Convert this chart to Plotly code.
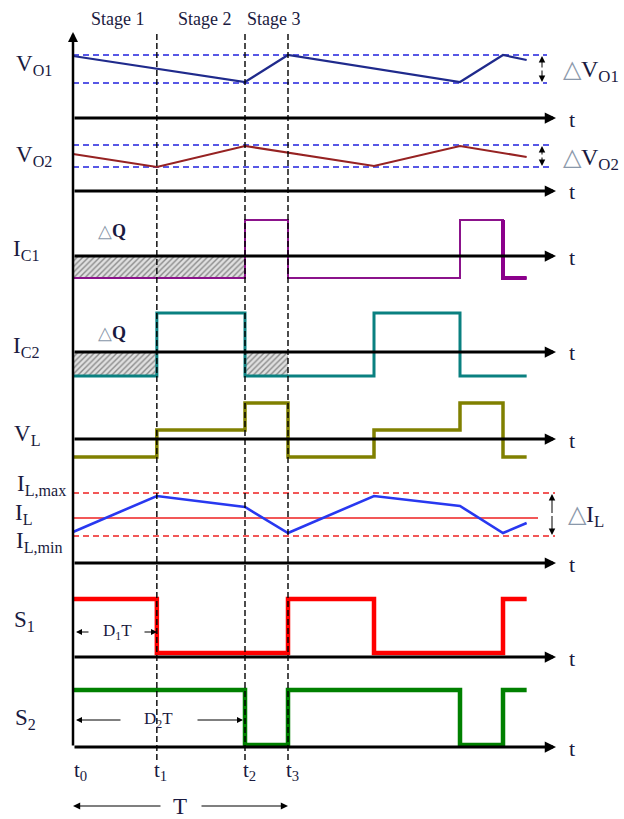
import plotly.graph_objects as go

W, H = 624, 819
X0_PX, T_PX = 73, 215      # pixel of t0 and pixels per period (layout)
PPU = 10                   # pixels per signal unit (layout)

def tx(px):
    return (px - X0_PX) / T_PX

def py(px):
    return 1 - px / H

# ---------------- data ----------------
# switching instants (units of T): t0, t1, t2, t3, t1', t2', t3', end
t_marks = [0.0, 0.39, 0.80, 1.00, 1.40, 1.80, 2.00, 2.11]
t_names = ["t<sub>0</sub>", "t<sub>1</sub>", "t<sub>2</sub>", "t<sub>3</sub>"]
stage_names = ["Stage 1", "Stage 2", "Stage 3"]

vo1_t = [0.0, 0.80, 1.00, 1.80, 2.00, 2.11]
vo1 = [6.2, 3.6, 6.3, 3.6, 6.3, 5.8]
vo1_max, vo1_min = 6.3, 3.5

vo2_t = [0.0, 0.39, 0.80, 1.40, 1.80, 2.11]
vo2 = [3.7, 2.4, 4.5, 2.5, 4.5, 3.4]
vo2_max, vo2_min = 4.6, 2.4

ic1 = [-2.2, -2.2, 3.6, -2.2, -2.2, 3.6, -2.2]
ic2 = [-2.4, 3.9, -2.4, -2.4, 3.9, -2.4, -2.4]
vl = [-1.8, 0.9, 3.6, -1.8, 0.9, 3.6, -1.8]
il = [3.1, 6.7, 5.6, 3.0, 6.7, 5.7, 3.0, 4.0]
il_max, il_avg, il_min = 7.0, 4.5, 2.7
s1 = [5.8, 0.4, 0.4, 5.8, 0.4, 0.4, 5.8]
s2 = [5.7, 5.7, 0.2, 5.7, 5.7, 0.2, 5.7]

row_labels = ["V<sub>O1</sub>", "V<sub>O2</sub>", "I<sub>C1</sub>", "I<sub>C2</sub>",
              "V<sub>L</sub>", "I<sub>L</sub>", "S<sub>1</sub>", "S<sub>2</sub>"]

# ---------------- layout helpers ----------------
baselines = [118, 191, 256, 352, 439, 563, 657, 747]
Y_LO, Y_HI = -4, 8
TXT = "#1a1a40"
FONT = "Liberation Serif"

fig = go.Figure()
layout_axes = {}
for i, b in enumerate(baselines):
    name = "yaxis" if i == 0 else f"yaxis{i+1}"
    top_px = b - Y_HI * PPU
    bot_px = b - Y_LO * PPU
    layout_axes[name] = dict(domain=[py(bot_px), py(top_px)], range=[Y_LO, Y_HI],
                             visible=False, anchor="x", fixedrange=True)

def yid(i):
    return "y" if i == 0 else f"y{i+1}"

def line(x, y, row, color, width, shape="linear", dash=None):
    fig.add_trace(go.Scatter(x=x, y=y, xaxis="x", yaxis=yid(row), mode="lines",
                             line=dict(color=color, width=width, shape=shape, dash=dash),
                             hoverinfo="skip", showlegend=False))

def step(levels, row, color, width):
    line(t_marks, levels + [levels[-1]], row, color, width, shape="hv")

def hatch(ta, tb, level, row):
    fig.add_trace(go.Scatter(x=[ta, tb, tb, ta, ta], y=[0, 0, level, level, 0],
                             xaxis="x", yaxis=yid(row), mode="lines", fill="toself",
                             line=dict(width=0), fillcolor="#e0e0e0",
                             fillpattern=dict(shape="/", fgcolor="#333333", bgcolor="#e0e0e0",
                                              size=4, solidity=0.35),
                             hoverinfo="skip", showlegend=False))

REF_END1, REF_END2, REF_END3, AVG_END = tx(547), tx(553), tx(555), tx(538)

# hatched charge areas
hatch(t_marks[0], t_marks[2], ic1[0], 2)
hatch(t_marks[0], t_marks[1], ic2[0], 3)
hatch(t_marks[2], t_marks[3], ic2[2], 3)

# reference lines
for v in (vo1_max, vo1_min):
    line([0, REF_END1], [v, v], 0, "#2222dd", 1.5, dash="6px,4px")
for v in (vo2_max, vo2_min):
    line([0, REF_END2], [v, v], 1, "#2222dd", 1.5, dash="6px,4px")
for v in (il_max, il_min):
    line([0, REF_END3], [v, v], 5, "#ee2020", 1.5, dash="6px,4px")
line([0, AVG_END], [il_avg, il_avg], 5, "#ee2020", 1.5)

# waveforms
line(vo1_t, vo1, 0, "#1f2a8c", 2.2)
line(vo2_t, vo2, 1, "#962222", 2.2)
step(ic1, 2, "#8b138b", 2)
line([t_marks[6], t_marks[6], t_marks[7]], [ic1[5], ic1[6], ic1[6]], 2, "#8b008b", 4)
step(ic2, 3, "#0a8080", 3)
step(vl, 4, "#808000", 3.5)
line(t_marks, il, 5, "#2838f0", 2.6)
step(s1, 6, "#ff0000", 4.5)
step(s2, 7, "#008000", 4.5)

shapes = []
# dashed vertical instants
for t in t_marks[1:4]:
    shapes.append(dict(type="line", xref="x", yref="paper", x0=t, x1=t,
                       y0=py(760), y1=py(31), line=dict(color="black", width=1.4, dash="6px,3px"),
                       layer="above"))

ann = []
AX_TIP = tx(556)
for i, b in enumerate(baselines):
    ann.append(dict(xref="x", yref=yid(i), x=AX_TIP, y=0, axref="pixel", ayref="pixel",
                    ax=-(556 - X0_PX), ay=0, text="", showarrow=True, arrowhead=2,
                    arrowsize=0.75, arrowwidth=3, arrowcolor="black", standoff=0))
    ann.append(dict(xref="x", yref=yid(i), x=tx(572), y=0, text="t", showarrow=False,
                    font=dict(size=22, color=TXT), yshift=-1))
# vertical axis
ann.append(dict(xref="x", yref="paper", x=0, y=py(32), axref="pixel", ayref="pixel",
                ax=0, ay=747 - 32, text="", showarrow=True, arrowhead=2, arrowsize=0.8,
                arrowwidth=2.5, arrowcolor="black", standoff=0))

def ptext(xpx, ypx, text, size, anchor="center"):
    ann.append(dict(xref="paper", yref="paper", x=xpx / W, y=py(ypx), text=text,
                    showarrow=False, xanchor=anchor, yanchor="middle",
                    font=dict(size=size, color=TXT, family=FONT)))

# stage labels
for name, cx in zip(stage_names, [118, 205, 274]):
    ptext(cx, 19, name, 18)

# row labels
lab_pos = [(34, 65), (34, 156), (26, 250), (26, 347), (27, 435), (24, 514), (24, 621), (25, 719)]
for (x, y), txt in zip(lab_pos, row_labels):
    ptext(x, y, txt, 23)
ptext(41, 485, "I<sub>L,max</sub>", 23)
ptext(39, 542, "I<sub>L,min</sub>", 23)

# delta labels
TRI = '<span style="color:#8a98aa">△</span>'
ptext(561, 71, TRI + "V<sub>O1</sub>", 24, "left")
ptext(561, 159, TRI + "V<sub>O2</sub>", 24, "left")
ptext(566, 516, TRI + "I<sub>L</sub>", 24, "left")
ptext(96, 231, TRI + "<b>Q</b>", 18, "left")
ptext(96, 333, TRI + "<b>Q</b>", 18, "left")

def darrow(xpx, y0px, y1px):
    for a, b in ((y0px, y1px), (y1px, y0px)):
        ann.append(dict(xref="paper", yref="paper", x=xpx / W, y=py(a), axref="pixel",
                        ayref="pixel", ax=0, ay=(b - a) * 0.5, text="", showarrow=True,
                        arrowhead=2, arrowsize=1.3, arrowwidth=1, arrowcolor="black", standoff=0))

darrow(542, 56, 82)
darrow(542, 146, 166)
darrow(552, 494, 535)

def harrow(tip_px, tail_px, ypx, w=1):
    ann.append(dict(xref="paper", yref="paper", x=tip_px / W, y=py(ypx), axref="pixel",
                    ayref="pixel", ax=tail_px - tip_px, ay=0, text="", showarrow=True,
                    arrowhead=2, arrowsize=1.2, arrowwidth=w, arrowcolor="black", standoff=0))

# D1T
harrow(76, 90, 632)
harrow(157, 143, 632)
ptext(117, 632, "D<sub>1</sub>T", 17)
# D2T
harrow(76, 122, 720)
harrow(243, 196, 720)
ptext(158, 720, "D<sub>2</sub>T", 17)
# T
harrow(73, 162, 806, 1.2)
harrow(288, 200, 806, 1.2)
ptext(180, 806, "T", 23)

# instant labels
for name, cx in zip(t_names, [80, 160, 249, 292]):
    ptext(cx, 771, name, 21)

fig.update_layout(width=W, height=H, margin=dict(l=0, r=0, t=0, b=0),
                  paper_bgcolor="white", plot_bgcolor="rgba(0,0,0,0)",
                  font=dict(family=FONT, color=TXT),
                  xaxis=dict(range=[tx(0), tx(W)], visible=False, fixedrange=True,
                             domain=[0, 1]),
                  shapes=shapes, annotations=ann, showlegend=False, **layout_axes)

fig.write_html("out.html", config=dict(displayModeBar=False, staticPlot=True),
               post_script="document.body.style.margin='0';")
